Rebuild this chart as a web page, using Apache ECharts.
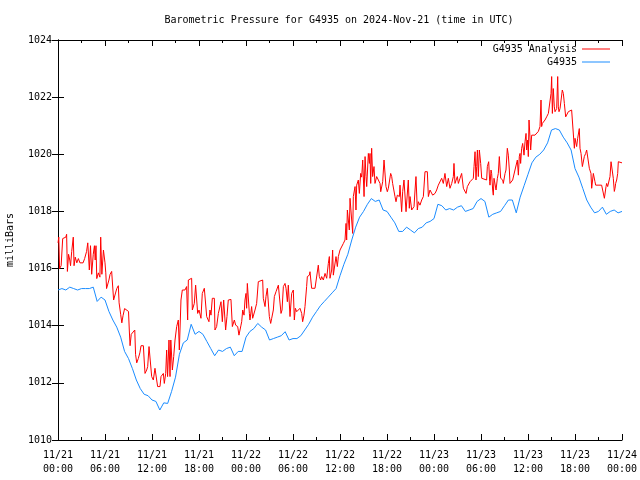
<!DOCTYPE html>
<html>
<head>
<meta charset="utf-8">
<script src="https://cdn.jsdelivr.net/npm/echarts@6/dist/echarts.min.js"></script>
<style>html,body{margin:0;padding:0;background:#fff}#c{width:640px;height:480px}</style>
</head>
<body>
<div id="c"></div>
<script>
// x tick labels (every 6 hours from 2024-11-21 00:00 UTC)
var xTickLabels = ['11/21\n00:00','11/21\n06:00','11/21\n12:00','11/21\n18:00','11/22\n00:00','11/22\n06:00','11/22\n12:00','11/22\n18:00','11/23\n00:00','11/23\n06:00','11/23\n12:00','11/23\n18:00','11/24\n00:00'];

// G4935 observed, every 30 minutes (hours 0..72)
var blueV = [
1015.25,1015.3,1015.25,1015.35,1015.3,1015.25,1015.3,1015.3,1015.3,1015.35,
1014.85,1015.0,1014.9,1014.5,1014.2,1013.95,1013.6,1013.1,1012.85,1012.5,
1012.1,1011.8,1011.6,1011.55,1011.4,1011.35,1011.05,1011.3,1011.28,1011.7,
1012.2,1013.0,1013.4,1013.5,1014.05,1013.7,1013.8,1013.7,1013.45,1013.2,
1012.95,1013.15,1013.1,1013.2,1013.25,1012.95,1013.1,1013.1,1013.6,1013.8,
1013.9,1014.08,1013.95,1013.85,1013.5,1013.55,1013.6,1013.65,1013.79,1013.5,
1013.55,1013.55,1013.65,1013.85,1014.05,1014.3,1014.5,1014.7,1014.85,1015.0,
1015.15,1015.3,1015.75,1016.15,1016.5,1017.0,1017.45,1017.8,1018.0,1018.25,
1018.45,1018.35,1018.4,1018.05,1018.0,1017.8,1017.6,1017.3,1017.3,1017.45,
1017.35,1017.25,1017.4,1017.45,1017.6,1017.65,1017.75,1018.25,1018.2,1018.05,
1018.1,1018.05,1018.15,1018.2,1018.0,1018.05,1018.1,1018.35,1018.45,1018.35,
1017.8,1017.9,1017.95,1018.0,1018.2,1018.4,1018.4,1017.95,1018.5,1018.9,
1019.3,1019.7,1019.9,1020.0,1020.15,1020.4,1020.85,1020.9,1020.85,1020.6,
1020.4,1020.15,1019.5,1019.2,1018.8,1018.4,1018.15,1017.95,1018.0,1018.15,
1017.9,1018.0,1018.05,1017.95,1018.0
];

// G4935 Analysis: hours since 11/21 00:00
var redT = [
0.0,0.1,0.2,0.4,0.6,1.0,1.1,1.2,1.35,1.5,1.6,1.75,1.95,2.05,2.2,2.4,2.6,2.8,3.2,3.4,3.65,3.8,3.9,4.0,4.15,4.3,4.5,4.65,4.75,4.85,4.95,5.15,5.35,5.45,5.6,5.8,6.0,6.1,6.2,6.4,6.5,6.65,6.85,7.05,7.1,7.3,7.5,7.7,7.8,8.0,8.15,8.3,8.5,8.7,9.0,9.1,9.2,9.35,9.6,9.8,9.9,10.05,10.25,10.45,10.6,10.9,11.0,
11.11,11.32,11.45,11.62,11.87,11.96,12.17,12.38,12.6,12.72,13.02,13.15,13.32,13.45,13.57,13.75,13.87,13.99,14.17,14.3,14.4,14.6,14.77,14.94,15.15,15.36,15.49,15.7,15.87,16.21,16.42,16.55,16.64,17.06,17.15,17.4,17.57,17.83,18.0,18.25,18.42,18.68,18.85,18.98,19.27,19.4,19.53,19.7,19.96,20.04,20.25,20.47,20.68,20.81,20.98,21.15,21.32,21.4,21.57,21.74,22.08,22.26,22.51,22.68,22.94,23.1,23.36,
23.45,23.58,23.75,23.87,24.0,24.08,24.17,24.3,24.43,24.51,24.72,24.85,25.02,25.15,25.36,25.57,25.66,26.13,26.21,26.43,26.55,26.72,26.85,26.98,27.15,27.28,27.49,27.62,27.83,28.0,28.13,28.34,28.47,28.6,28.77,28.98,29.11,29.28,29.4,29.62,29.83,30.04,30.17,30.3,30.47,30.68,30.89,31.11,31.23,31.4,31.53,31.74,31.83,32.09,32.17,32.38,32.6,32.81,33.02,33.23,33.36,33.53,33.66,33.87,34.09,34.3,34.51,34.64,34.72,34.94,35.06,35.15,35.36,35.49,35.66,35.79,36.0,
36.21,36.43,36.64,36.77,36.85,36.94,37.05,37.19,37.28,37.45,37.62,37.7,37.92,38.04,38.13,38.34,38.47,38.64,38.77,38.9,39.07,39.2,39.32,39.41,39.62,39.75,39.83,39.92,40.04,40.17,40.34,40.47,40.68,40.9,41.11,41.2,41.45,41.62,41.75,41.87,42.04,42.17,42.38,42.47,42.6,42.72,42.89,43.02,43.15,43.32,43.58,43.66,43.87,44.0,44.17,44.3,44.43,44.6,44.72,44.85,44.94,45.15,45.28,45.45,45.58,45.7,45.87,46.0,46.21,46.43,46.64,46.85,47.15,47.28,
47.49,47.83,48.0,48.13,48.34,48.55,48.68,48.77,48.98,49.11,49.19,49.4,49.53,49.62,49.7,49.83,49.96,50.04,50.26,50.47,50.55,50.68,50.81,50.98,51.11,51.32,51.53,51.75,51.96,52.09,52.26,52.51,52.6,52.81,53.02,53.11,53.24,53.36,53.45,53.54,53.66,53.79,53.96,54.09,54.3,54.72,54.81,54.98,55.11,55.15,55.28,55.36,55.49,55.57,55.66,55.79,55.92,56.0,56.09,56.21,56.34,56.43,56.51,56.64,56.77,56.85,57.07,57.19,57.36,57.49,57.62,57.7,57.92,58.04,58.21,58.34,58.47,58.64,58.77,58.89,58.98,59.06,59.19,59.32,59.49,59.62,
59.75,59.83,59.96,60.04,60.13,60.26,60.34,60.47,60.89,61.11,61.32,61.53,61.66,61.74,61.83,61.96,62.17,62.38,62.6,62.81,62.94,63.02,63.11,63.23,63.36,63.45,63.66,63.79,63.87,63.96,64.09,64.21,64.38,64.51,64.64,64.72,64.81,64.94,65.15,65.36,65.57,65.79,65.92,66.0,66.13,66.21,66.34,66.43,66.55,66.64,66.77,66.94,67.06,67.19,67.36,67.49,67.7,67.83,67.91,68.04,68.13,68.21,68.34,68.47,68.55,68.64,68.77,68.89,69.06,69.19,69.4,69.53,69.66,69.75,69.83,69.96,70.04,70.17,70.26,70.47,70.6,70.77,70.89,71.02,71.11,71.19,71.32,71.45,71.53,71.74,72.0
];
var redV = [
1016.9,1017.1,1016.0,1016.1,1017.05,1017.1,1017.2,1015.9,1016.5,1016.3,1016.1,1016.6,1017.1,1016.1,1016.4,1016.2,1016.35,1016.2,1016.2,1016.35,1016.6,1016.9,1016.85,1015.95,1016.8,1015.8,1016.5,1016.8,1016.3,1016.8,1015.65,1015.85,1015.7,1017.1,1015.8,1016.65,1016.2,1015.85,1015.3,1015.25,1015.6,1015.8,1015.9,1015.85,1014.9,1014.9,1015.3,1015.4,1014.8,1014.4,1014.1,1014.35,1014.6,1014.55,1014.5,1013.85,1013.3,1013.7,1013.75,1013.85,1013.0,1012.7,1012.85,1013.05,1013.3,1013.3,1012.8,
1012.33,1012.45,1012.57,1013.27,1013.27,1012.22,1012.1,1012.51,1012.57,1011.87,1011.87,1012.22,1012.16,1012.33,1011.98,1012.33,1013.15,1012.22,1013.5,1012.22,1013.5,1012.45,1012.92,1013.5,1013.97,1014.2,1013.15,1014.9,1015.25,1015.25,1015.37,1014.2,1015.6,1015.66,1014.55,1014.78,1015.42,1014.43,1014.55,1014.26,1015.13,1015.31,1015.25,1014.32,1014.14,1014.55,1014.37,1014.96,1014.96,1013.85,1013.97,1014.43,1014.49,1014.84,1014.14,1014.9,1014.84,1013.85,1014.32,1014.9,1014.92,1013.97,1014.2,1014.02,1013.97,1013.67,1014.02,
1014.14,1014.55,1014.37,1014.9,1015.13,1014.61,1015.48,1015.42,1014.43,1014.2,1014.67,1014.26,1014.26,1014.55,1014.78,1015.54,1015.6,1015.6,1014.96,1014.67,1015.02,1015.31,1015.31,1014.32,1014.08,1014.26,1014.55,1015.02,1015.19,1015.25,1015.42,1015.48,1014.43,1014.55,1015.37,1015.48,1015.31,1014.84,1015.42,1014.32,1015.13,1015.25,1014.2,1014.61,1014.49,1014.43,1014.61,1014.43,1014.14,1014.37,1014.67,1015.37,1015.72,1015.77,1015.89,1015.31,1015.25,1015.31,1015.37,1016.12,1015.72,1015.6,1015.72,1015.6,1015.83,1015.66,1016.18,1016.42,1015.66,1015.95,1016.65,1015.77,1015.83,1016.42,1016.07,1016.42,1016.65,
1016.71,1016.88,1017.0,1017.58,1017.0,1018.05,1018.11,1017.35,1018.46,1018.52,1017.23,1018.52,1018.87,1018.05,1018.92,1019.1,1018.63,1019.33,1019.2,1019.8,1018.52,1019.92,1019.22,1018.87,1020.03,1019.68,1020.03,1018.98,1020.21,1019.22,1019.57,1018.98,1019.22,1019.22,1018.98,1018.69,1019.04,1019.8,1019.8,1018.87,1018.69,1018.81,1018.75,1019.33,1019.22,1018.98,1018.92,1018.52,1018.34,1018.57,1018.52,1018.92,1017.99,1018.69,1019.1,1019.1,1017.99,1018.05,1019.1,1018.11,1018.52,1018.05,1018.11,1018.17,1018.75,1019.22,1018.05,1018.34,1018.22,1018.4,1018.52,1019.39,1019.39,1018.52,
1018.75,1018.57,1018.52,1018.63,1018.75,1018.92,1018.98,1018.92,1019.16,1019.22,1018.98,1019.33,1019.39,1018.87,1018.81,1019.16,1019.22,1018.81,1018.98,1019.22,1019.68,1018.98,1018.92,1019.22,1018.98,1019.16,1019.33,1018.81,1018.75,1018.63,1018.87,1018.92,1019.04,1018.98,1019.16,1019.57,1020.09,1019.1,1019.57,1020.15,1019.22,1020.15,1019.68,1019.16,1019.1,1019.1,1019.57,1019.74,1019.04,1018.92,1019.45,1019.33,1018.75,1018.57,1019.16,1019.1,1018.75,1018.81,1019.16,1019.33,1019.92,1019.97,1019.16,1019.1,1019.1,1018.98,1019.33,1019.45,1020.21,1019.97,1019.45,1018.98,1019.04,1019.1,1019.1,1019.45,1019.39,1019.8,1019.27,1019.92,1020.03,1019.68,1020.21,1020.38,1019.97,1020.44,
1020.73,1020.15,1020.5,1019.92,1021.2,1021.26,1020.15,1020.67,1020.67,1020.73,1020.8,1020.97,1021.9,1020.97,1021.08,1021.14,1021.2,1021.31,1021.43,1021.49,1022.13,1022.72,1021.43,1022.3,1021.66,1021.49,1021.6,1022.72,1021.66,1021.49,1021.6,1021.55,1022.25,1022.13,1021.78,1021.84,1021.31,1021.26,1021.49,1021.55,1021.55,1021.49,1020.21,1020.56,1020.5,1020.27,1020.56,1020.62,1020.9,1020.21,1020.03,1019.57,1019.57,1019.92,1020.03,1020.15,1020.15,1019.51,1019.45,1019.33,1018.81,1018.75,1019.33,1019.27,1019.04,1018.92,1018.98,1018.87,1018.92,1018.98,1018.92,1018.75,1018.69,1018.46,1018.52,1018.87,1018.98,1018.87,1018.92,1019.22,1019.74,1019.74,1019.16,1018.7,1018.81,1018.98,1019.1,1019.33,1019.74,1019.74,1019.7
];

var redData = redT.map(function (t, i) { return [t, redV[i]]; });
var blueData = blueV.map(function (v, i) { return [i * 0.5, v]; });

var FONT = 'DejaVu Sans Mono';
var chart = echarts.init(document.getElementById('c'), null, {renderer: 'canvas'});
var tickCommon = {show: true, inside: true, length: 6, lineStyle: {color: '#000', width: 1}};
var minorCommon = {show: true, splitNumber: 2, length: 3, lineStyle: {color: '#000', width: 1}};
var legendCommon = {
  orient: 'horizontal', right: 30, align: 'right', icon: 'rect',
  itemWidth: 28, itemHeight: 1, itemGap: 0, padding: 0,
  textStyle: {fontFamily: FONT, fontSize: 10, color: '#000'}
};
chart.setOption({
  animation: false,
  backgroundColor: '#fff',
  title: {
    text: 'Barometric Pressure for G4935 on 2024-Nov-21 (time in UTC)',
    left: 334, top: 10, textAlign: 'center',
    textStyle: {fontFamily: FONT, fontSize: 10, fontWeight: 'normal', color: '#000'}
  },
  legend: [
    Object.assign({}, legendCommon, {data: ['G4935 Analysis'], top: 44}),
    Object.assign({}, legendCommon, {data: ['G4935'], top: 57})
  ],
  grid: {left: 58, right: 18, top: 40, bottom: 40, containLabel: false, outerBoundsMode: 'none'},
  xAxis: [{
    type: 'value', min: 0, max: 72, interval: 6,
    axisLine: {show: true, lineStyle: {color: '#000', width: 1}},
    axisTick: tickCommon, minorTick: minorCommon,
    splitLine: {show: false},
    axisLabel: {
      margin: 8, fontFamily: FONT, fontSize: 10, color: '#000', lineHeight: 14,
      formatter: function (v) { return xTickLabels[Math.round(v / 6)]; }
    }
  }, {
    type: 'value', min: 0, max: 72, interval: 6, position: 'top',
    axisLine: {show: true, lineStyle: {color: '#000', width: 1}},
    axisTick: tickCommon, minorTick: minorCommon,
    splitLine: {show: false}, axisLabel: {show: false}
  }],
  yAxis: [{
    type: 'value', min: 1010, max: 1024, interval: 2,
    name: 'milliBars', nameLocation: 'middle', nameGap: 43, nameRotate: 90,
    nameTextStyle: {fontFamily: FONT, fontSize: 10, color: '#000'},
    axisLine: {show: true, lineStyle: {color: '#000', width: 1}},
    axisTick: tickCommon,
    splitLine: {show: false},
    axisLabel: {margin: 6, fontFamily: FONT, fontSize: 10, color: '#000',
      formatter: function (v) { return String(v); }}
  }, {
    type: 'value', min: 1010, max: 1024, interval: 2, position: 'right',
    axisLine: {show: true, lineStyle: {color: '#000', width: 1}},
    axisTick: tickCommon,
    splitLine: {show: false}, axisLabel: {show: false}
  }],
  series: [{
    name: 'G4935 Analysis', type: 'line', data: redData,
    xAxisIndex: 0, yAxisIndex: 0,
    showSymbol: false, symbol: 'none',
    lineStyle: {color: '#ff0000', width: 1}, itemStyle: {color: '#ff0000'}
  }, {
    name: 'G4935', type: 'line', data: blueData,
    xAxisIndex: 0, yAxisIndex: 0,
    showSymbol: false, symbol: 'none',
    lineStyle: {color: '#1a8cff', width: 1}, itemStyle: {color: '#1a8cff'}
  }]
});
</script>
</body>
</html>
